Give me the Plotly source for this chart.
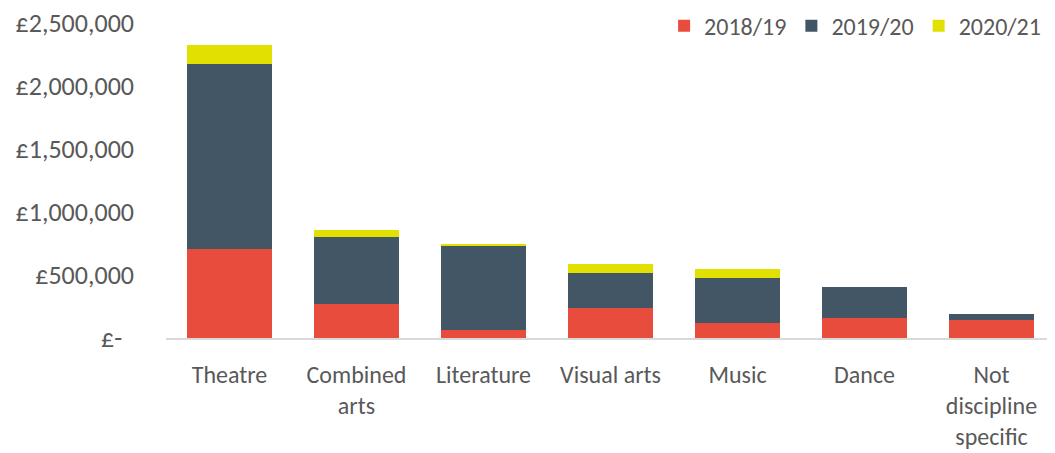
import plotly.graph_objects as go

categories = ["Theatre", "Combined<br>arts", "Literature", "Visual arts", "Music", "Dance", "Not<br>discipline<br>specific"]
series_names = ["2018/19", "2019/20", "2020/21"]
v_2018_19 = [706000, 273000, 65000, 238000, 121000, 161000, 140000]
v_2019_20 = [1467000, 528000, 673000, 274000, 353000, 244000, 47000]
v_2020_21 = [154000, 56000, 8000, 74000, 70000, 0, 0]
colors = ["#E84C3D", "#435665", "#E1E000"]
tick_vals = [0, 500000, 1000000, 1500000, 2000000, 2500000]
tick_text = ["£-\u00a0\u00a0", "£500,000", "£1,000,000", "£1,500,000", "£2,000,000", "£2,500,000"]

FONT = "Carlito, Lato, sans-serif"
TXT = "#595959"

fig = go.Figure()
for name, vals, c in zip(series_names, [v_2018_19, v_2019_20, v_2020_21], colors):
    fig.add_trace(go.Bar(x=categories, y=vals, name=name, marker=dict(color=c, line=dict(width=0))))

# page body has an 8px default margin, so the figure is sized/offset to compensate
fig.update_layout(
    barmode="stack",
    bargap=0.335,
    width=1047, height=445,
    margin=dict(l=158, r=0, t=15, b=115, pad=0, autoexpand=False),
    paper_bgcolor="white", plot_bgcolor="white",
    font=dict(family=FONT, size=26, color=TXT),
    legend=dict(orientation="h", x=0.99, xanchor="right", y=0.99, yanchor="middle",
                font=dict(family=FONT, size=24, color=TXT), itemwidth=30,
                bgcolor="rgba(0,0,0,0)", traceorder="normal"),
    showlegend=True,
)
fig.update_yaxes(range=[0, 2500000], tickvals=tick_vals, ticktext=tick_text, showgrid=False,
                 zeroline=False, showline=False, ticks="", ticklabelstandoff=31,
                 ticklabeloverflow="allow",
                 tickfont=dict(family=FONT, size=26, color=TXT))
fig.update_xaxes(showline=True, linecolor="#D9D9D9", linewidth=2, ticks="", ticklabelstandoff=14,
                 ticklabeloverflow="allow",
                 tickfont=dict(family=FONT, size=24, color=TXT), tickangle=0)

fig.write_html("out.html")
